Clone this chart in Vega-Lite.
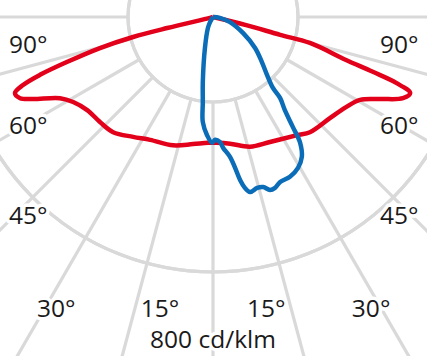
{
  "$schema": "https://vega.github.io/schema/vega-lite/v6.json",
  "width": 427,
  "height": 356,
  "autosize": {"type": "none"},
  "padding": 0,
  "background": "white",
  "config": {"view": {"stroke": null}},
  "datasets": {
    "circles": [{"r": 200}, {"r": 400}, {"r": 600}, {"r": 800}],
    "spokes": [
      {"x": 0, "y": -200, "x2": 0, "y2": -1000},
      {"x": 51.8, "y": -193.2, "x2": 258.8, "y2": -965.9},
      {"x": -51.8, "y": -193.2, "x2": -258.8, "y2": -965.9},
      {"x": 100, "y": -173.2, "x2": 500, "y2": -866},
      {"x": -100, "y": -173.2, "x2": -500, "y2": -866},
      {"x": 141.4, "y": -141.4, "x2": 707.1, "y2": -707.1},
      {"x": -141.4, "y": -141.4, "x2": -707.1, "y2": -707.1},
      {"x": 173.2, "y": -100, "x2": 866, "y2": -500},
      {"x": -173.2, "y": -100, "x2": -866, "y2": -500},
      {"x": 193.2, "y": -51.8, "x2": 965.9, "y2": -258.8},
      {"x": -193.2, "y": -51.8, "x2": -965.9, "y2": -258.8},
      {"x": 200, "y": 0, "x2": 1000, "y2": 0},
      {"x": -200, "y": 0, "x2": -1000, "y2": 0}
    ],
    "labels": [
      {"t": "90°", "x": -435, "y": -85},
      {"t": "90°", "x": 438, "y": -85},
      {"t": "60°", "x": -435, "y": -275},
      {"t": "60°", "x": 438, "y": -275},
      {"t": "45°", "x": -435, "y": -487},
      {"t": "45°", "x": 438, "y": -487},
      {"t": "30°", "x": -369, "y": -706},
      {"t": "15°", "x": -125, "y": -705},
      {"t": "15°", "x": 125, "y": -705},
      {"t": "30°", "x": 372, "y": -706},
      {"t": "800 cd/klm", "x": 0, "y": -779}
    ],
    "red": [
      {"i": 0, "x": 0, "y": 0},
      {"i": 1, "x": -7, "y": -2},
      {"i": 2, "x": -108, "y": -26},
      {"i": 3, "x": -188, "y": -47},
      {"i": 4, "x": -266, "y": -73},
      {"i": 5, "x": -344, "y": -106},
      {"i": 6, "x": -407, "y": -136},
      {"i": 7, "x": -447, "y": -160},
      {"i": 8, "x": -466, "y": -179},
      {"i": 9, "x": -454, "y": -191},
      {"i": 10, "x": -424, "y": -193},
      {"i": 11, "x": -360, "y": -191},
      {"i": 12, "x": -329, "y": -200},
      {"i": 13, "x": -296, "y": -219},
      {"i": 14, "x": -266, "y": -247},
      {"i": 15, "x": -235, "y": -271},
      {"i": 16, "x": -188, "y": -282},
      {"i": 17, "x": -148, "y": -289},
      {"i": 18, "x": -94, "y": -302},
      {"i": 19, "x": -47, "y": -299},
      {"i": 20, "x": -12, "y": -296},
      {"i": 21, "x": 7, "y": -296},
      {"i": 22, "x": 40, "y": -298},
      {"i": 23, "x": 87, "y": -305},
      {"i": 24, "x": 134, "y": -294},
      {"i": 25, "x": 198, "y": -278},
      {"i": 26, "x": 228, "y": -271},
      {"i": 27, "x": 275, "y": -238},
      {"i": 28, "x": 313, "y": -212},
      {"i": 29, "x": 346, "y": -195},
      {"i": 30, "x": 393, "y": -193},
      {"i": 31, "x": 447, "y": -191},
      {"i": 32, "x": 464, "y": -179},
      {"i": 33, "x": 431, "y": -155},
      {"i": 34, "x": 376, "y": -129},
      {"i": 35, "x": 313, "y": -101},
      {"i": 36, "x": 228, "y": -61},
      {"i": 37, "x": 158, "y": -42},
      {"i": 38, "x": 78, "y": -19},
      {"i": 39, "x": 0, "y": 0}
    ],
    "blue": [
      {"i": 0, "x": 0, "y": 0},
      {"i": 1, "x": -7, "y": -12},
      {"i": 2, "x": -12, "y": -26},
      {"i": 3, "x": -19, "y": -73},
      {"i": 4, "x": -24, "y": -153},
      {"i": 5, "x": -24, "y": -200},
      {"i": 6, "x": -24, "y": -247},
      {"i": 7, "x": -14, "y": -278},
      {"i": 8, "x": -2, "y": -296},
      {"i": 9, "x": 5, "y": -289},
      {"i": 10, "x": 16, "y": -294},
      {"i": 11, "x": 24, "y": -308},
      {"i": 12, "x": 40, "y": -329},
      {"i": 13, "x": 52, "y": -355},
      {"i": 14, "x": 64, "y": -384},
      {"i": 15, "x": 75, "y": -402},
      {"i": 16, "x": 87, "y": -412},
      {"i": 17, "x": 104, "y": -402},
      {"i": 18, "x": 118, "y": -400},
      {"i": 19, "x": 134, "y": -407},
      {"i": 20, "x": 146, "y": -402},
      {"i": 21, "x": 158, "y": -388},
      {"i": 22, "x": 181, "y": -376},
      {"i": 23, "x": 200, "y": -355},
      {"i": 24, "x": 209, "y": -329},
      {"i": 25, "x": 205, "y": -296},
      {"i": 26, "x": 188, "y": -259},
      {"i": 27, "x": 169, "y": -219},
      {"i": 28, "x": 158, "y": -191},
      {"i": 29, "x": 141, "y": -167},
      {"i": 30, "x": 127, "y": -136},
      {"i": 31, "x": 115, "y": -106},
      {"i": 32, "x": 99, "y": -73},
      {"i": 33, "x": 71, "y": -38},
      {"i": 34, "x": 40, "y": -12},
      {"i": 35, "x": 16, "y": -2},
      {"i": 36, "x": 0, "y": 0}
    ]
  },
  "encoding": {
    "x": {"type": "quantitative", "scale": {"domain": [-501.2, 503.5], "nice": false, "zero": false}, "axis": null},
    "y": {"type": "quantitative", "scale": {"domain": [-797.6, 40], "nice": false, "zero": false}, "axis": null}
  },
  "layer": [
    {
      "data": {"name": "circles"},
      "mark": {"type": "arc", "theta": 0, "theta2": 6.2832, "filled": false, "stroke": "#d9d9d9", "strokeWidth": 3.2, "clip": true},
      "encoding": {
        "x": {"datum": 0, "type": "quantitative"},
        "y": {"datum": 0, "type": "quantitative"},
        "radius": {"field": "r", "type": "quantitative", "scale": {"type": "linear", "domain": [0, 800], "range": [0, 340], "zero": true}, "legend": null}
      }
    },
    {
      "data": {"name": "spokes"},
      "mark": {"type": "rule", "stroke": "#d9d9d9", "strokeWidth": 3.2, "clip": true},
      "encoding": {
        "x": {"field": "x", "type": "quantitative"},
        "y": {"field": "y", "type": "quantitative"},
        "x2": {"field": "x2"},
        "y2": {"field": "y2"}
      }
    },
    {
      "data": {"name": "red"},
      "mark": {"type": "line", "color": "#e2001a", "strokeWidth": 4.5, "interpolate": "catmull-rom", "clip": true},
      "encoding": {
        "x": {"field": "x", "type": "quantitative"},
        "y": {"field": "y", "type": "quantitative"},
        "order": {"field": "i", "type": "quantitative"}
      }
    },
    {
      "data": {"name": "blue"},
      "mark": {"type": "line", "color": "#0b6db7", "strokeWidth": 4.5, "interpolate": "catmull-rom", "clip": true},
      "encoding": {
        "x": {"field": "x", "type": "quantitative"},
        "y": {"field": "y", "type": "quantitative"},
        "order": {"field": "i", "type": "quantitative"}
      }
    },
    {
      "data": {"name": "labels"},
      "mark": {"type": "text", "font": "Open Sans", "fontSize": 24.5, "align": "center", "baseline": "alphabetic", "fill": "white", "stroke": "white", "strokeWidth": 7, "strokeJoin": "round"},
      "encoding": {
        "x": {"field": "x", "type": "quantitative"},
        "y": {"field": "y", "type": "quantitative"},
        "text": {"field": "t"}
      }
    },
    {
      "data": {"name": "labels"},
      "mark": {"type": "text", "font": "Open Sans", "fontSize": 24.5, "align": "center", "baseline": "alphabetic", "color": "#1a1a1a"},
      "encoding": {
        "x": {"field": "x", "type": "quantitative"},
        "y": {"field": "y", "type": "quantitative"},
        "text": {"field": "t"}
      }
    }
  ]
}
